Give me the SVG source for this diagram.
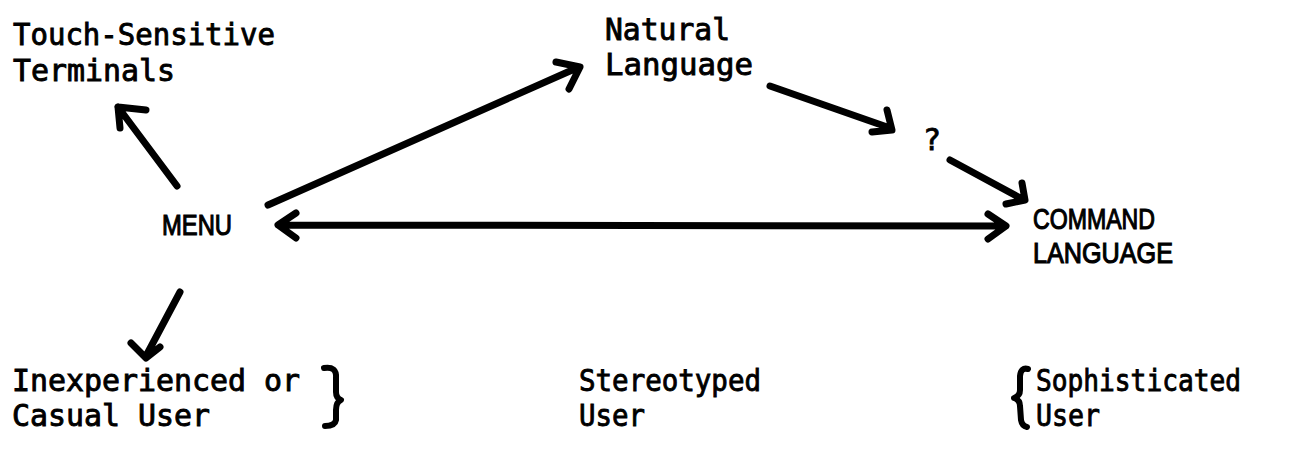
<svg xmlns="http://www.w3.org/2000/svg" width="1301" height="465" viewBox="0 0 1301 465">
<style>
.t{font-family:"DejaVu Sans Mono","Liberation Mono",monospace;font-size:30px;fill:#000;stroke:#000;stroke-width:0.9}
.s{font-family:"Liberation Sans","DejaVu Sans",sans-serif;font-size:30px;fill:#000;stroke:#000;stroke-width:1.2}
.ln{fill:none;stroke:#000;stroke-width:7;stroke-linecap:round;stroke-linejoin:round}
.br{fill:none;stroke:#000;stroke-width:6;stroke-linecap:round;stroke-linejoin:round}
</style>
<rect width="1301" height="465" fill="#fff"/>
<g id="touch"><text class="t" x="13" y="45" textLength="262" lengthAdjust="spacingAndGlyphs">Touch-Sensitive</text><text class="t" x="13" y="81" textLength="162" lengthAdjust="spacingAndGlyphs">Terminals</text></g>
<g id="natural"><text class="t" x="605" y="40" textLength="125" lengthAdjust="spacingAndGlyphs">Natural</text><text class="t" x="605" y="75" textLength="148" lengthAdjust="spacingAndGlyphs">Language</text></g>
<g id="question"><text class="t" x="923" y="150">?</text></g>
<g id="menu"><text class="s" x="162" y="235" textLength="70" lengthAdjust="spacingAndGlyphs">MENU</text></g>
<g id="command"><text class="s" x="1033" y="229" textLength="122" lengthAdjust="spacingAndGlyphs">COMMAND</text><text class="s" x="1033" y="263" textLength="140" lengthAdjust="spacingAndGlyphs">LANGUAGE</text></g>
<g id="inexperienced"><text class="t" x="12" y="391" textLength="288" lengthAdjust="spacingAndGlyphs">Inexperienced or</text><text class="t" x="12" y="426" textLength="198" lengthAdjust="spacingAndGlyphs">Casual User</text><path class="br" d="M324,368 Q337,366 336,378 L336,392 Q336,398 341,400 Q336,402 336,410 L336,420 Q335,426 325,426"/></g>
<g id="stereotyped"><text class="t" x="579" y="391" textLength="182" lengthAdjust="spacingAndGlyphs">Stereotyped</text><text class="t" x="579" y="426" textLength="66" lengthAdjust="spacingAndGlyphs">User</text></g>
<g id="sophisticated"><text class="t" x="1036" y="391" textLength="205" lengthAdjust="spacingAndGlyphs">Sophisticated</text><text class="t" x="1036" y="426" textLength="64" lengthAdjust="spacingAndGlyphs">User</text><path class="br" d="M1028,369 Q1021,367 1020,376 L1020,390 Q1020,396 1014,398 Q1020,400 1020,406 L1021,420 Q1022,426 1027,427"/></g>
<g id="connectors">
<path class="ln" d="M177,186 L118,107 M146,110 L118,107 L120,128"/>
<path class="ln" d="M268,205 L579,67 M556,62 L580,67 L569,89"/>
<path class="ln" d="M280,225 L1004,226 M296,213 L278,225 L296,238 M988,214 L1006,226 L988,239"/>
<path class="ln" d="M770,86 L890,128 M872,132 L892,130 L887,110"/>
<path class="ln" d="M950,160 L1024,200 M1006,204 L1025,200 L1022,183"/>
<path class="ln" d="M180,292 L146,356 M131,343 L146,358 L160,347"/>
</g>
</svg>
